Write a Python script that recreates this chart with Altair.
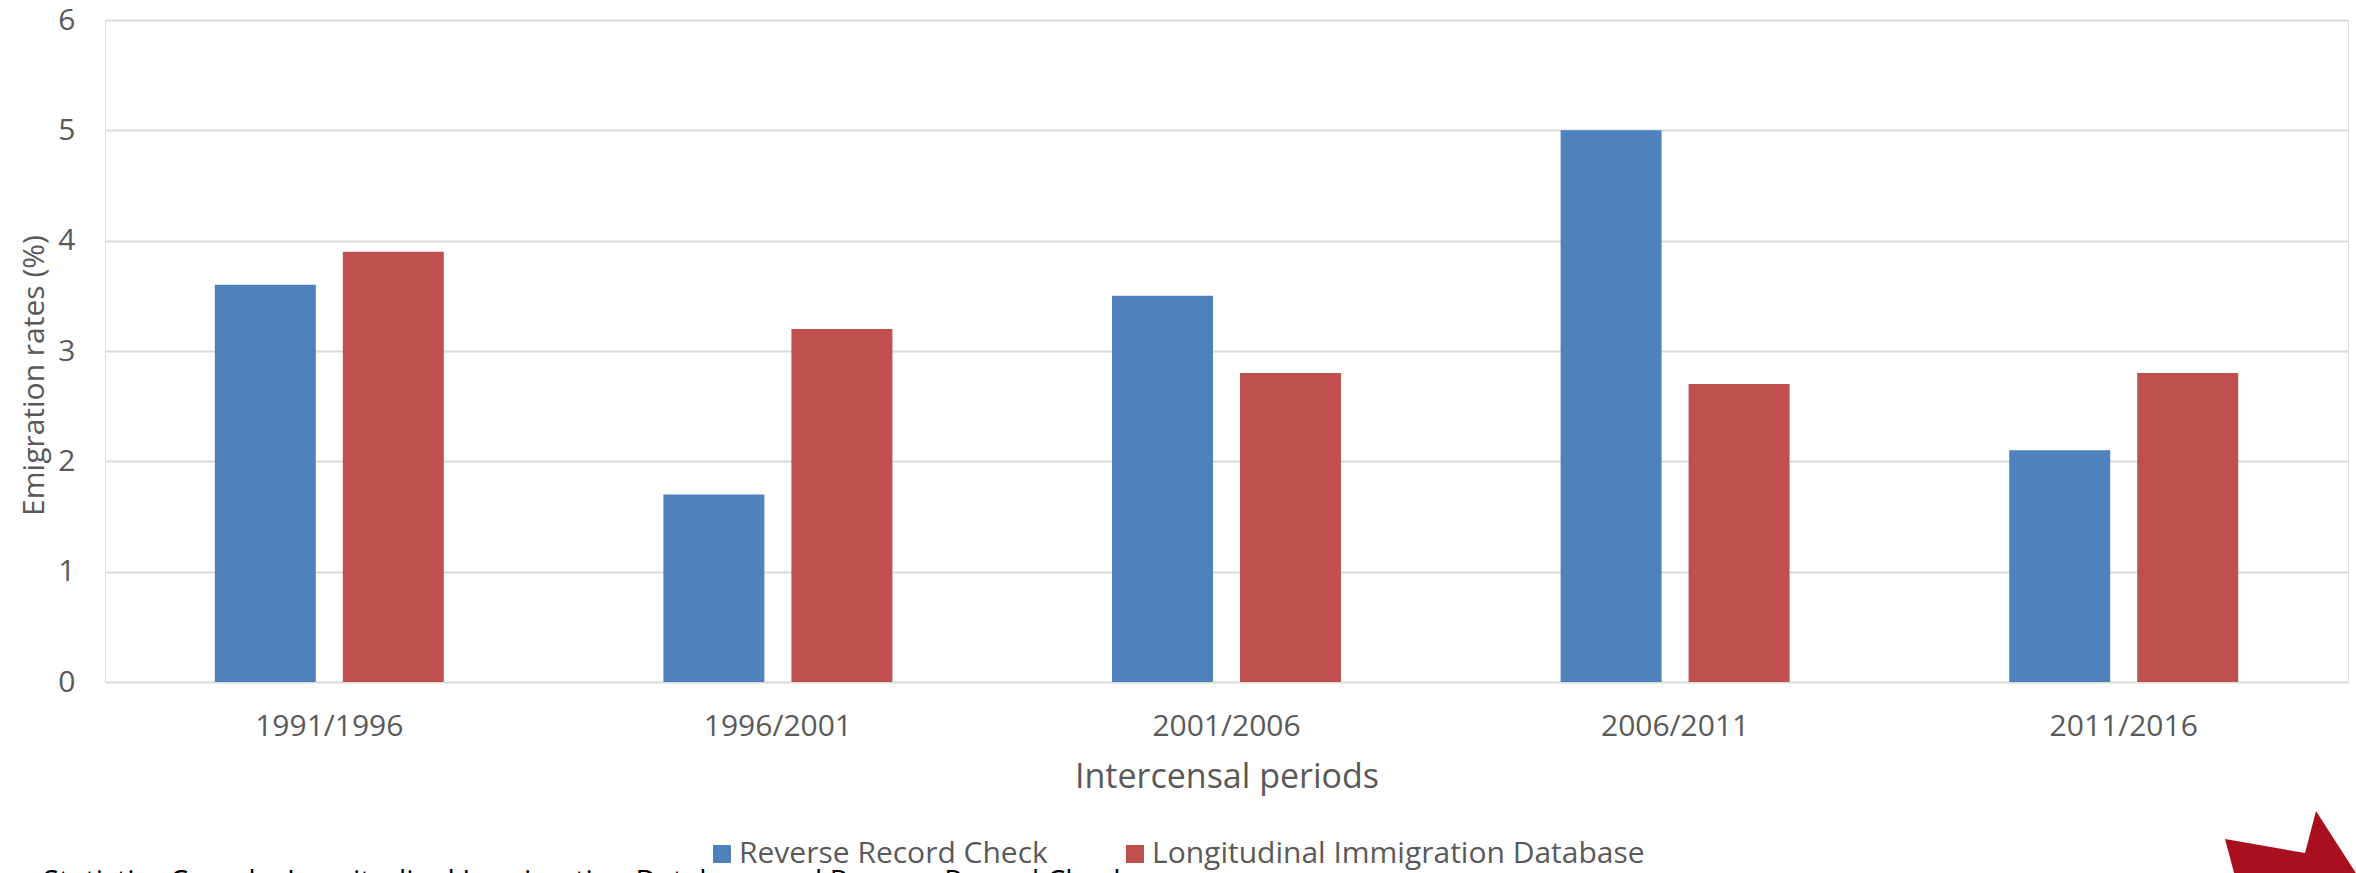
import altair as alt
import pandas as pd

# Emigration rates by intercensal period, from two data sources
periods = ["1991/1996", "1996/2001", "2001/2006", "2006/2011", "2011/2016"]
sources = ["Reverse Record Check", "Longitudinal Immigration Database"]
reverse_record_check = [3.6, 1.7, 3.5, 5.0, 2.1]
longitudinal_db = [3.9, 3.2, 2.8, 2.7, 2.8]
y_ticks = [0, 1, 2, 3, 4, 5, 6]
source_note = "Statistics Canada, Longitudinal Immigration Database and Reverse Record Check"

colors = ["#4F81BD", "#C0504D"]
text_color = "#595959"
font = "Open Sans"

rows = []
for i, p in enumerate(periods):
    rows.append({"period": p, "source": sources[0], "rate": reverse_record_check[i]})
    rows.append({"period": p, "source": sources[1], "rate": longitudinal_db[i]})
df = pd.DataFrame(rows)

W, H = 2243, 662

bars = alt.Chart(df).mark_bar().encode(
    x=alt.X(
        "period:N",
        sort=periods,
        scale=alt.Scale(paddingInner=0, paddingOuter=0),
        axis=alt.Axis(
            title="Intercensal periods",
            labelAngle=0,
            labelFontSize=30,
            labelFont=font,
            labelColor=text_color,
            labelPadding=29,
            titleFontSize=34,
            titleFont=font,
            titleFontWeight="normal",
            titleColor=text_color,
            titleBaseline="alphabetic",
            titleY=105,
            titleX=W / 2,
            domain=False,
            ticks=False,
            grid=False,
        ),
    ),
    xOffset=alt.XOffset(
        "source:N",
        sort=sources,
        scale=alt.Scale(paddingInner=0.211, paddingOuter=0.858),
    ),
    y=alt.Y(
        "rate:Q",
        scale=alt.Scale(domain=[0, 6], nice=False),
        axis=alt.Axis(
            title="Emigration rates (%)",
            values=y_ticks,
            format="d",
            labelFontSize=30,
            labelFont=font,
            labelColor=text_color,
            labelPadding=30,
            titleFontSize=30,
            titleFont=font,
            titleFontWeight="normal",
            titleColor=text_color,
            titleAngle=270,
            titleBaseline="alphabetic",
            titleAlign="center",
            titleX=-62,
            titleY=355,
            domain=False,
            ticks=False,
            grid=True,
            gridColor="#D9D9D9",
            gridWidth=2,
        ),
    ),
    color=alt.Color(
        "source:N",
        sort=sources,
        scale=alt.Scale(domain=sources, range=colors),
        legend=alt.Legend(
            title=None,
            orient="none",
            legendX=602,
            legendY=819,
            direction="horizontal",
            symbolType="square",
            symbolSize=324,
            symbolStrokeWidth=0,
            labelFontSize=30,
            labelFont=font,
            labelColor=text_color,
            labelOffset=2,
            columnPadding=72,
            padding=0,
            labelLimit=1000,
        ),
    ),
)

# Source line along the bottom edge
note = alt.Chart(pd.DataFrame({"t": [source_note]})).mark_text(
    align="left", baseline="alphabetic", fontSize=29, font=font, color="#000000"
).encode(text="t:N", x=alt.value(-62), y=alt.value(871))

# Corner logo fragment
logo = alt.Chart(pd.DataFrame({"k": [1]})).mark_point(
    shape="M -0.9375 -0.175 L 0.0625 0.0 L 0.2 -0.525 L 0.875 0.525 L -0.75 0.525 Z",
    size=25600,
    filled=True,
    opacity=1,
    color="#A8101F",
).encode(x=alt.value(2195), y=alt.value(833))

chart = alt.layer(bars, note, logo).properties(
    width=W,
    height=H,
    autosize=alt.AutoSizeParams(type="none"),
    padding={"left": 105, "top": 20, "right": 8, "bottom": 191},
).configure_view(stroke=None).configure(background="white")

chart.save("out.html", embed_options={"renderer": "svg", "actions": False})
